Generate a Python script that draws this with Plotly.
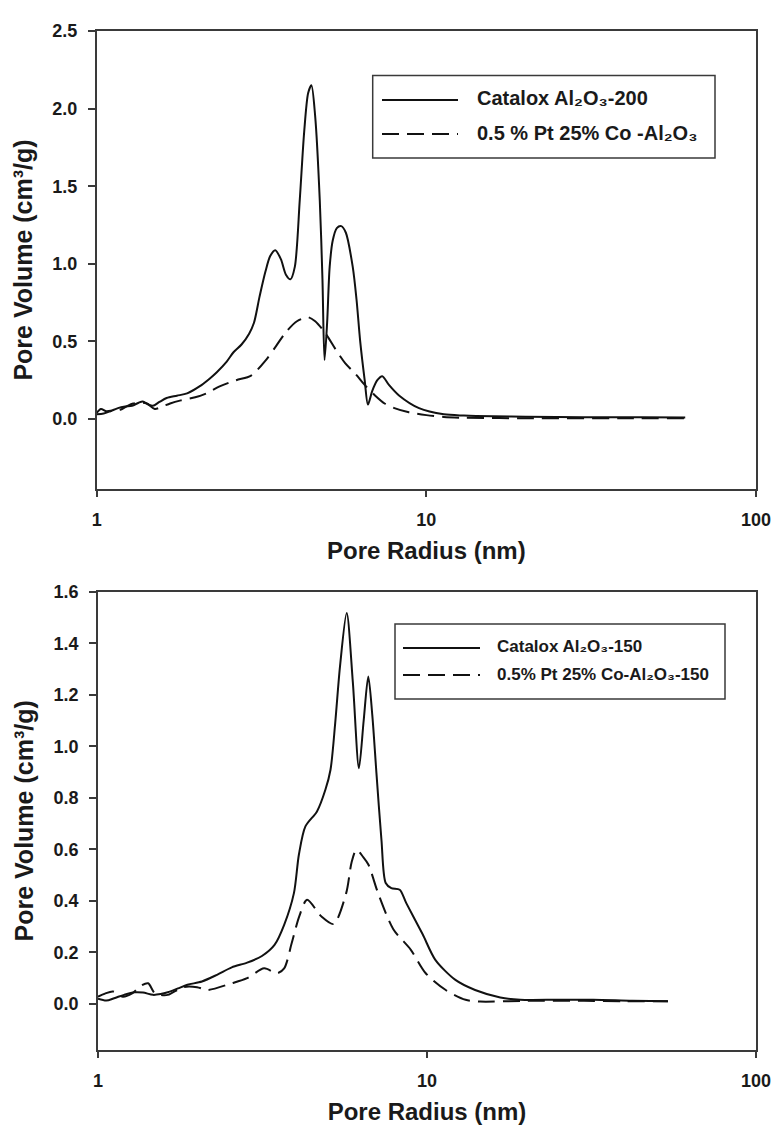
import plotly.graph_objects as go

# ---------------- data ----------------
top_solid_r = [1.00, 1.05, 1.10, 1.16, 1.22, 1.28, 1.34, 1.38, 1.43, 1.48, 1.55, 1.63, 1.75, 1.88,
               2.05, 2.20, 2.31, 2.48, 2.60, 2.75, 2.90, 3.00, 3.12, 3.25, 3.36, 3.48, 3.62, 3.75,
               3.87, 3.99, 4.13, 4.26, 4.38, 4.48, 4.60, 4.75, 4.84, 4.91, 5.00, 5.09, 5.20, 5.35,
               5.52, 5.70, 5.98, 6.14, 6.30, 6.50, 6.65, 6.85, 7.10, 7.35, 7.70, 8.28, 9.50, 11.3,
               13.0, 15.9, 20.0, 30.0, 45.0, 61.0]
top_solid_v = [0.030, 0.035, 0.050, 0.070, 0.080, 0.085, 0.105, 0.113, 0.095, 0.085, 0.110, 0.135,
               0.150, 0.165, 0.210, 0.260, 0.300, 0.370, 0.430, 0.480, 0.550, 0.620, 0.790, 0.950,
               1.050, 1.088, 1.030, 0.930, 0.900, 0.980, 1.410, 1.850, 2.100, 2.150, 1.950, 1.410,
               0.900, 0.380, 0.620, 0.980, 1.150, 1.230, 1.243, 1.200, 0.980, 0.770, 0.500, 0.250,
               0.093, 0.180, 0.250, 0.276, 0.220, 0.150, 0.070, 0.030, 0.022, 0.017, 0.015, 0.012,
               0.011, 0.010]

top_dash_r = [1.00, 1.03, 1.07, 1.12, 1.18, 1.24, 1.29, 1.36, 1.42, 1.50, 1.58, 1.67, 1.80, 1.99,
              2.15, 2.36, 2.65, 2.94, 3.26, 3.50, 3.75, 4.05, 4.37, 4.60, 4.95, 5.30, 5.67, 6.10,
              6.50, 7.00, 7.47, 8.00, 8.85, 10.0, 11.3, 13.0, 20.0, 40.0, 61.0]
top_dash_v = [0.040, 0.065, 0.050, 0.055, 0.060, 0.085, 0.100, 0.105, 0.100, 0.065, 0.080, 0.100,
              0.120, 0.140, 0.165, 0.210, 0.250, 0.280, 0.380, 0.470, 0.560, 0.630, 0.656, 0.630,
              0.550, 0.450, 0.360, 0.290, 0.220, 0.150, 0.100, 0.070, 0.043, 0.025, 0.013, 0.008,
              0.005, 0.005, 0.005]

bot_solid_r = [1.00, 1.06, 1.12, 1.20, 1.29, 1.37, 1.47, 1.55, 1.63, 1.75, 1.87, 2.07, 2.30, 2.55,
               2.84, 3.15, 3.44, 3.68, 3.94, 4.08, 4.27, 4.63, 4.91, 5.09, 5.26, 5.44, 5.70, 5.95,
               6.21, 6.42, 6.63, 6.82, 7.02, 7.27, 7.49, 7.79, 8.26, 8.65, 9.70, 10.6, 12.2, 14.0,
               16.7, 19.2, 25.0, 32.0, 42.0, 54.0]
bot_solid_v = [0.020, 0.013, 0.022, 0.035, 0.045, 0.044, 0.035, 0.038, 0.045, 0.060, 0.074, 0.087,
               0.113, 0.142, 0.160, 0.186, 0.229, 0.307, 0.430, 0.580, 0.689, 0.747, 0.831, 0.909,
               1.090, 1.310, 1.517, 1.250, 0.915, 1.100, 1.271, 1.120, 0.896, 0.637, 0.469, 0.449,
               0.443, 0.391, 0.270, 0.171, 0.093, 0.054, 0.025, 0.016, 0.016, 0.016, 0.012, 0.010]

bot_dash_r = [1.00, 1.05, 1.11, 1.19, 1.27, 1.35, 1.42, 1.49, 1.63, 1.81, 2.00, 2.15, 2.55, 2.84,
              3.20, 3.50, 3.68, 3.88, 4.09, 4.32, 4.77, 5.20, 5.68, 5.90, 6.10, 6.40, 6.64, 7.10,
              7.90, 8.93, 9.91, 11.4, 13.1, 14.5, 20.0, 30.0, 40.0, 54.0]
bot_dash_v = [0.028, 0.040, 0.048, 0.028, 0.041, 0.070, 0.080, 0.041, 0.035, 0.065, 0.065, 0.054,
              0.080, 0.100, 0.138, 0.119, 0.138, 0.236, 0.340, 0.404, 0.340, 0.310, 0.430, 0.550,
              0.598, 0.570, 0.540, 0.430, 0.290, 0.210, 0.119, 0.054, 0.016, 0.009, 0.012, 0.012,
              0.010, 0.010]

x_tickvals = [1, 10, 100]
x_ticktext = ["1", "10", "100"]
top_y_ticks = [0.0, 0.5, 1.0, 1.5, 2.0, 2.5]
bot_y_ticks = [0.0, 0.2, 0.4, 0.6, 0.8, 1.0, 1.2, 1.4, 1.6]

top_names = ["Catalox Al\u2082O\u2083-200", "0.5 % Pt 25% Co -Al\u2082O\u2083"]
bot_names = ["Catalox Al\u2082O\u2083-150", "0.5% Pt 25% Co-Al\u2082O\u2083-150"]
x_title = "Pore Radius (nm)"
y_title = "Pore Volume (cm\u00b3/g)"

# ---------------- figure ----------------
W, H = 772, 1130
FONT = "Liberation Sans, Arial, DejaVu Sans, sans-serif"
LINE = "#111111"
AX = "#3a3a3a"
TXT = "#1a1a1a"
DASH = "17px,8px"

fig = go.Figure()
fig.add_trace(go.Scatter(x=top_solid_r, y=top_solid_v, mode="lines", name=top_names[0],
                         line=dict(color=LINE, width=2, shape="spline", smoothing=0.8),
                         xaxis="x", yaxis="y", showlegend=False))
fig.add_trace(go.Scatter(x=top_dash_r, y=top_dash_v, mode="lines", name=top_names[1],
                         line=dict(color=LINE, width=2, dash=DASH, shape="spline", smoothing=0.8),
                         xaxis="x", yaxis="y", showlegend=False))
fig.add_trace(go.Scatter(x=bot_solid_r, y=bot_solid_v, mode="lines", name=bot_names[0],
                         line=dict(color=LINE, width=2, shape="spline", smoothing=0.8),
                         xaxis="x2", yaxis="y2", showlegend=False))
fig.add_trace(go.Scatter(x=bot_dash_r, y=bot_dash_v, mode="lines", name=bot_names[1],
                         line=dict(color=LINE, width=2, dash=DASH, shape="spline", smoothing=0.8),
                         xaxis="x2", yaxis="y2", showlegend=False))


def px_x(p):
    return p / W


def px_y(p):
    return 1 - p / H


xcommon = dict(type="log", range=[0, 2], tickvals=x_tickvals, ticktext=x_ticktext,
               ticks="outside", ticklen=6, tickwidth=1.5, tickcolor=AX,
               showline=True, linecolor=AX, linewidth=1.5, mirror=True,
               showgrid=False, zeroline=False, ticklabelstandoff=8,
               ticklabeloverflow="allow", automargin=False,
               tickfont=dict(family=FONT, size=18, color=TXT, weight="bold"),
               title=dict(text=x_title, standoff=13,
                          font=dict(family=FONT, size=24, color=TXT, weight="bold")))
ycommon = dict(ticks="outside", ticklen=7, tickwidth=1.5, tickcolor=AX,
               showline=True, linecolor=AX, linewidth=1.5, mirror=True,
               showgrid=False, zeroline=False, ticklabelstandoff=7, automargin=False,
               tickfont=dict(family=FONT, size=18, color=TXT, weight="bold"),
               title=dict(text=y_title, standoff=13,
                          font=dict(family=FONT, size=25, color=TXT, weight="bold")))

fig.update_layout(
    width=W, height=H, autosize=False,
    margin=dict(l=0, r=0, t=0, b=0, autoexpand=False),
    paper_bgcolor="white", plot_bgcolor="white",
    xaxis=dict(domain=[px_x(96.7), px_x(756)], anchor="y", **xcommon),
    yaxis=dict(domain=[px_y(489), px_y(31)], anchor="x", range=[-0.451, 2.5],
               tickvals=top_y_ticks, ticktext=[f"{v:.1f}" for v in top_y_ticks], **ycommon),
    xaxis2=dict(domain=[px_x(98), px_x(756)], anchor="y2", **xcommon),
    yaxis2=dict(domain=[px_y(1050), px_y(591.7)], anchor="x2", range=[-0.179, 1.6],
                tickvals=bot_y_ticks, ticktext=[f"{v:.1f}" for v in bot_y_ticks], **ycommon),
)


# ---------------- legends (box + sample lines + labels) ----------------
def add_legend(box, rows, sample_x, text_x, names, size):
    x0, y0, x1, y1 = box
    fig.add_shape(type="rect", xref="paper", yref="paper",
                  x0=px_x(x0), x1=px_x(x1), y0=px_y(y1), y1=px_y(y0),
                  line=dict(color=AX, width=1.5), fillcolor="white", layer="above")
    for (ly, ty), name, dash in zip(rows, names, ["solid", DASH]):
        fig.add_shape(type="line", xref="paper", yref="paper",
                      x0=px_x(sample_x[0]), x1=px_x(sample_x[1]), y0=px_y(ly), y1=px_y(ly),
                      line=dict(color=LINE, width=2, dash=dash), layer="above")
        fig.add_annotation(xref="paper", yref="paper", x=px_x(text_x), y=px_y(ty),
                           xanchor="left", yanchor="middle", showarrow=False,
                           text=name,
                           font=dict(family=FONT, size=size, color=TXT, weight="bold"))


add_legend((372.7, 75.5, 715, 158), [(100, 98), (134, 133)], (382, 458), 475, top_names, 20)
add_legend((395, 624, 725, 699), [(648, 646), (675, 674)], (403, 480), 495, bot_names, 17)

fig.write_html("out.html")
